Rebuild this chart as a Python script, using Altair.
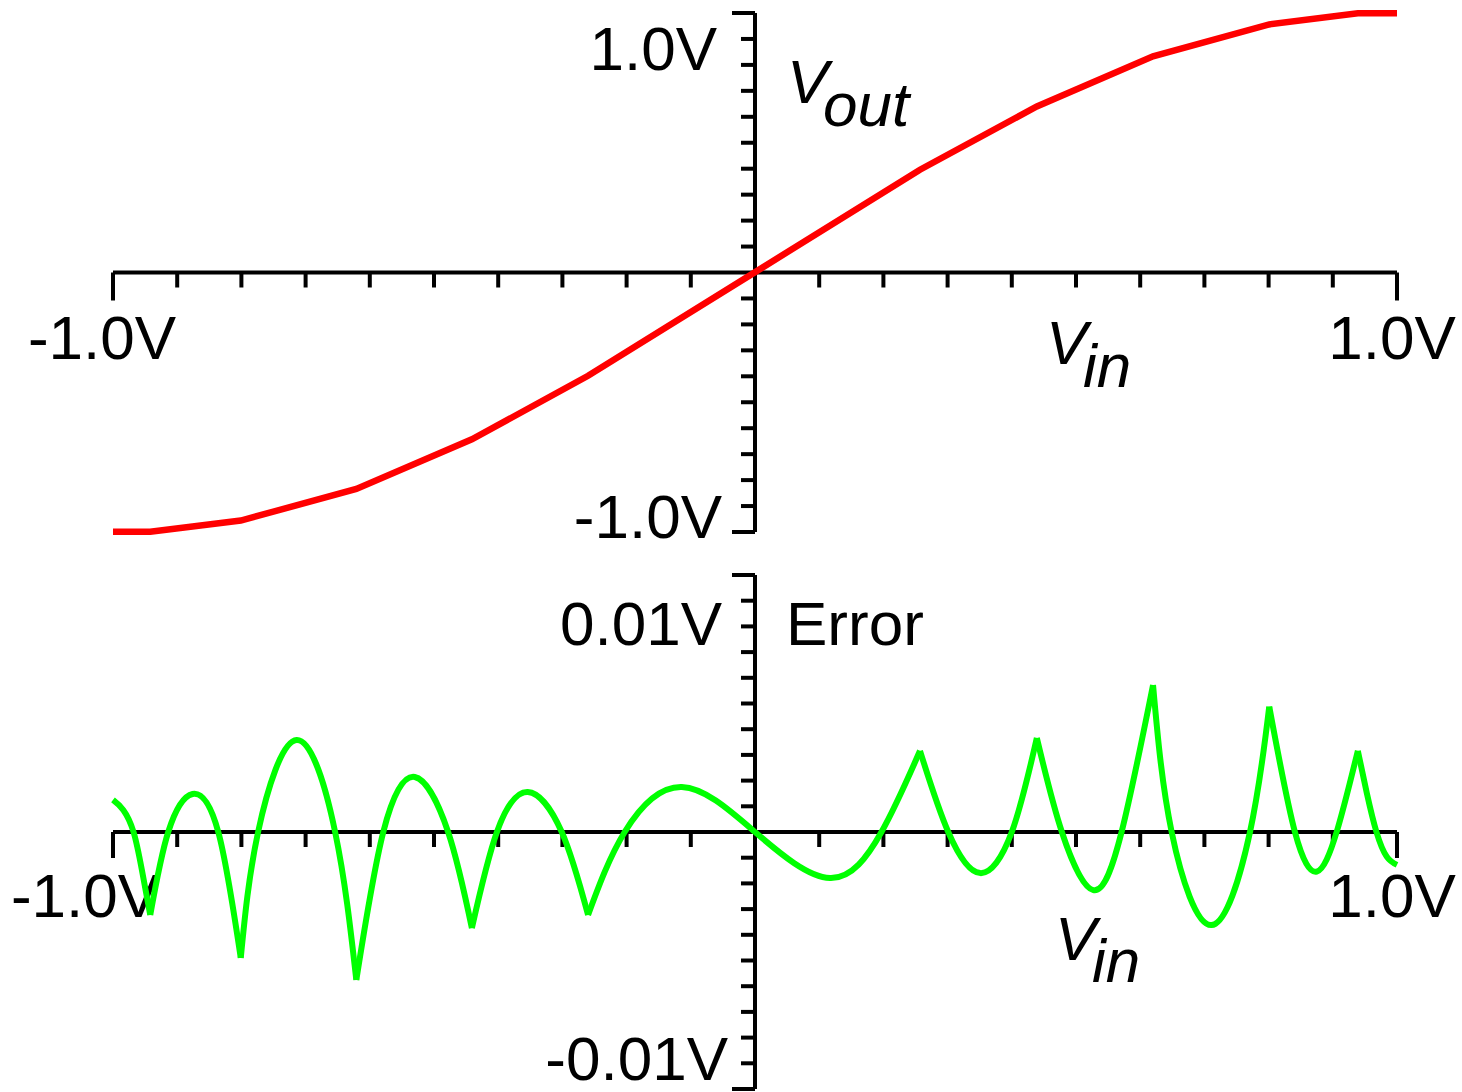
import altair as alt
import pandas as pd

FONT = "Liberation Sans"
RED = "#ff0000"
GREEN = "#00ff00"
INK = "black"

# Transfer characteristic of the piecewise-linear sine shaper (breakpoints)
vin_knots = [-1.0, -0.942, -0.801, -0.621, -0.441, -0.260,
             0.257, 0.439, 0.620, 0.801, 0.939, 1.0]
vout_knots = [-0.999, -0.999, -0.956, -0.834, -0.643, -0.398,
              0.396, 0.640, 0.833, 0.956, 0.999, 0.999]

# Approximation error, one list per linear segment (V):
# breakpoint, zero crossing, extremum, zero crossing, breakpoint
arc_vin = [
    [-1.0, -0.984, -0.968, -0.955, -0.942],
    [-0.942, -0.914, -0.876, -0.836, -0.801],
    [-0.801, -0.774, -0.714, -0.654, -0.621],
    [-0.621, -0.579, -0.530, -0.478, -0.441],
    [-0.441, -0.402, -0.354, -0.301, -0.260],
    [-0.260, -0.203, -0.114, 0.0, 0.117, 0.197, 0.257],
    [0.257, 0.301, 0.351, 0.400, 0.439],
    [0.439, 0.478, 0.527, 0.571, 0.620],
    [0.620, 0.649, 0.711, 0.771, 0.801],
    [0.801, 0.841, 0.875, 0.906, 0.939],
    [0.939, 0.953, 0.968, 0.984, 1.0],
]
arc_err = [
    [0.00125, 0.00086, 0.0, -0.00148, -0.00323],
    [-0.00323, 0.0, 0.00148, 0.0, -0.00490],
    [-0.00490, 0.0, 0.00358, 0.0, -0.00576],
    [-0.00576, 0.0, 0.00214, 0.0, -0.00374],
    [-0.00374, 0.0, 0.00156, 0.0, -0.00323],
    [-0.00323, 0.0, 0.00175, 0.0, -0.00179, 0.0, 0.00316],
    [0.00316, 0.0, -0.00160, 0.0, 0.00366],
    [0.00366, 0.0, -0.00226, 0.0, 0.00572],
    [0.00572, 0.0, -0.00362, 0.0, 0.00488],
    [0.00488, 0.0, -0.00154, 0.0, 0.00316],
    [0.00316, 0.00151, 0.0, -0.00096, -0.00128],
]

# Tick positions
vin_ticks = [-0.9, -0.8, -0.7, -0.6, -0.5, -0.4, -0.3, -0.2, -0.1,
             0.1, 0.2, 0.3, 0.4, 0.5, 0.6, 0.7, 0.8, 0.9]
vin_ends = [-1.0, 1.0]
vout_ticks = [-0.9, -0.8, -0.7, -0.6, -0.5, -0.4, -0.3, -0.2, -0.1,
              0.1, 0.2, 0.3, 0.4, 0.5, 0.6, 0.7, 0.8, 0.9]
vout_ends = [-1.0, 1.0]
err_ticks = [-0.009, -0.008, -0.007, -0.006, -0.005, -0.004, -0.003, -0.002, -0.001,
             0.001, 0.002, 0.003, 0.004, 0.005, 0.006, 0.007, 0.008, 0.009]
err_ends = [-0.01, 0.01]

# Scales: both panels share the Vin axis; each panel has its own vertical scale
x_scale = alt.Scale(domain=[-1.0, 1.0], range=[113, 1397])
y_top = alt.Scale(domain=[-1.0, 1.0], range=[532, 13])
y_bot = alt.Scale(domain=[-0.01, 0.01], range=[1089, 575])

AXIS_W = 4


def X(field):
    return alt.X(field, type="quantitative", scale=x_scale, axis=None)


def Y(field, ys):
    return alt.Y(field, type="quantitative", scale=ys, axis=None)


def axis_layers(ys, ydom, yticks, yends, xend_len):
    layers = []
    # horizontal axis through y = 0
    layers.append(
        alt.Chart(pd.DataFrame({"a": [-1.0], "b": [1.0], "y": [0.0]}))
        .mark_rule(color=INK, strokeWidth=AXIS_W)
        .encode(x=X("a"), x2="b", y=Y("y", ys))
    )
    # vertical axis through x = 0
    layers.append(
        alt.Chart(pd.DataFrame({"x": [0.0], "a": [ydom[0]], "b": [ydom[1]]}))
        .mark_rule(color=INK, strokeWidth=AXIS_W)
        .encode(x=X("x"), y=Y("a", ys), y2="b")
    )
    # ticks below the horizontal axis
    layers.append(
        alt.Chart(pd.DataFrame({"v": vin_ticks, "y": [0.0] * len(vin_ticks)}))
        .mark_tick(orient="vertical", size=15, thickness=AXIS_W, yOffset=7.5,
                   color=INK, opacity=1)
        .encode(x=X("v"), y=Y("y", ys))
    )
    layers.append(
        alt.Chart(pd.DataFrame({"v": vin_ends, "y": [0.0] * len(vin_ends)}))
        .mark_tick(orient="vertical", size=xend_len, thickness=AXIS_W,
                   yOffset=xend_len / 2, color=INK, opacity=1)
        .encode(x=X("v"), y=Y("y", ys))
    )
    # ticks left of the vertical axis
    layers.append(
        alt.Chart(pd.DataFrame({"x": [0.0] * len(yticks), "v": yticks}))
        .mark_tick(orient="horizontal", size=14, thickness=AXIS_W, xOffset=-7,
                   color=INK, opacity=1)
        .encode(x=X("x"), y=Y("v", ys))
    )
    layers.append(
        alt.Chart(pd.DataFrame({"x": [0.0] * len(yends), "v": yends}))
        .mark_tick(orient="horizontal", size=23, thickness=AXIS_W, xOffset=-11.5,
                   color=INK, opacity=1)
        .encode(x=X("x"), y=Y("v", ys))
    )
    return layers


def label(text, x, y, ys, align, dx, dy, style="normal", size=62):
    return (
        alt.Chart(pd.DataFrame({"t": [text], "x": [x], "y": [y]}))
        .mark_text(font=FONT, fontSize=size, fontStyle=style, align=align,
                   baseline="alphabetic", dx=dx, dy=dy, color=INK)
        .encode(x=X("x"), y=Y("y", ys), text="t:N")
    )


layers = []

# ---- upper panel: Vout against Vin ----
layers += axis_layers(y_top, [-1.0, 1.0], vout_ticks, vout_ends, 28)
layers += [
    label("-1.0V", -1.0, 0.0, y_top, "center", -11, 86),
    label("1.0V", 1.0, 0.0, y_top, "center", -5, 86),
    label("1.0V", 0.0, 1.0, y_top, "right", -38, 57),
    label("-1.0V", 0.0, -1.0, y_top, "right", -33, 6),
    label("V", 0.5, 0.0, y_top, "left", -30, 91, "italic"),
    label("in", 0.5, 0.0, y_top, "left", 7, 114, "italic"),
    label("V", 0.0, 1.0, y_top, "left", 32, 90, "italic"),
    label("out", 0.0, 1.0, y_top, "left", 68, 113, "italic"),
]
layers.append(
    alt.Chart(pd.DataFrame({"vin": vin_knots, "vout": vout_knots}))
    .mark_line(color=RED, strokeWidth=6.5)
    .encode(x=X("vin"), y=Y("vout", y_top))
)

# ---- lower panel: approximation error ----
layers += axis_layers(y_bot, [-0.01, 0.01], err_ticks, err_ends, 26)
layers += [
    label("-1.0V", -1.0, 0.0, y_bot, "center", -28, 85),
    label("1.0V", 1.0, 0.0, y_bot, "center", -5, 85),
    label("0.01V", 0.0, 0.01, y_bot, "right", -33, 70),
    label("-0.01V", 0.0, -0.01, y_bot, "right", -27, -9),
    label("Error", 0.0, 0.01, y_bot, "left", 31, 70),
    label("V", 0.5, 0.0, y_bot, "left", -21, 128, "italic"),
    label("in", 0.5, 0.0, y_bot, "left", 16, 150, "italic"),
]
err_rows = []
for k, (vs, es) in enumerate(zip(arc_vin, arc_err)):
    for v, e in zip(vs, es):
        err_rows.append({"arc": k, "vin": v, "err": e})
layers.append(
    alt.Chart(pd.DataFrame(err_rows))
    .mark_line(color=GREEN, strokeWidth=6, interpolate="natural")
    .encode(x=X("vin"), y=Y("err", y_bot), detail="arc:N", order="vin:Q")
)

chart = (
    alt.layer(*layers)
    .resolve_scale(y="independent")
    .properties(width=1462, height=1092, padding=0,
                autosize=alt.AutoSizeParams(type="none"),
                background="white")
    .configure_view(stroke=None)
)

chart.save("out.html", embed_options={"renderer": "svg", "actions": False})
